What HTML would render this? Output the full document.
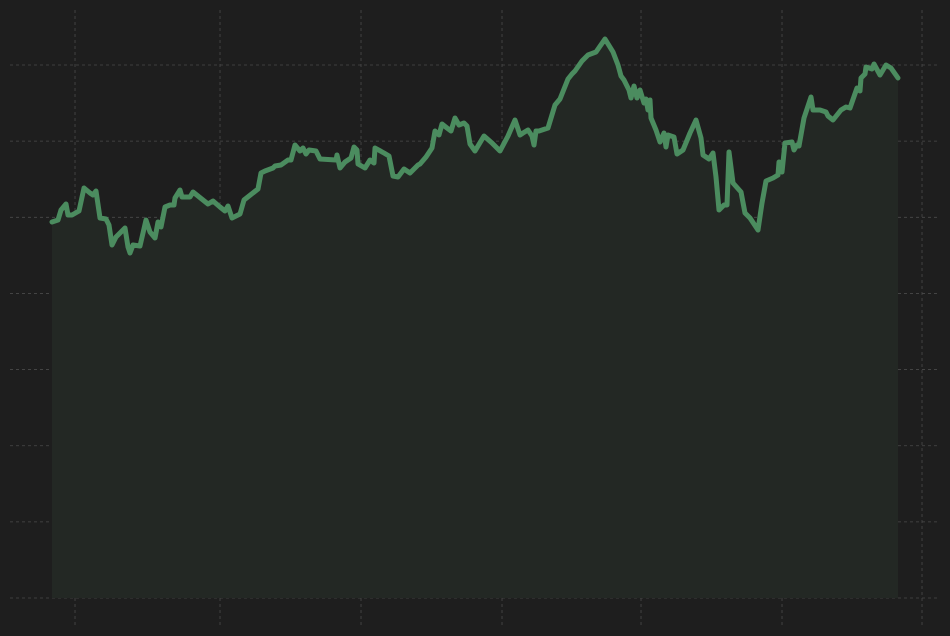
<!DOCTYPE html>
<html><head><meta charset="utf-8">
<style>
html,body{margin:0;padding:0;background:#1e1e1e;}
svg{display:block;font-family:"Liberation Sans",sans-serif;}
</style></head>
<body>
<svg id="chart" width="950" height="636" viewBox="0 0 950 636" xmlns="http://www.w3.org/2000/svg">
<rect x="0" y="0" width="950" height="636" fill="#1e1e1e"/>
<g id="grid"></g>
<g id="series"></g>
</svg>
<script>
const days=[0,6,9,14,16,20,27,32,38,41,44,48,54,57,60,64,73,76,78,81,88,94,98,103,106,109,113,118,122,123,128,130,135,138,141,146,156,161,168,173,176,180,188,192,206,209,213,221,223,229,236,239,243,248,251,254,257,264,268,284,
285,288,293,299,302,305,306,313,318,322,323,332,337,341,346,352,358,366,368,374,380,383,387,390,395,399,403,407,412,415,418,423,432,440,448,456,463,468,471,476,480,482,484,487,496,503,508,516,520,523,530,536,544,553,561,566,569,572,577,
579,582,585,588,592,594,596,598,599,604,608,612,614,616,622,625,631,638,644,649,651,657,661,664,667,672,675,677,681,689,693,698,706,710,714,721,726,727,730,733,740,742,745,747,752,759,761,768,774,776,781,789,794,798,805,808,809,813,814,820,822,828,834,839,846];
const values=[376,378,388,394,383,383,387,410,405,403,407,380,379,373,353,361,370,351,345,353,352,378,366,360,376,371,391,393,393,400,408,401,401,401,406,402,394,397,391,387,392,380,384,398,409,425,427,430,432,433,438,438,453,447,450,444,448,447,439,438,
443,430,436,440,451,448,434,430,438,435,450,445,442,422,421,429,425,433,434,441,450,467,463,474,470,467,480,473,475,472,454,447,462,455,447,462,478,463,465,468,462,453,467,467,470,493,499,519,524,527,537,543,546,559,546,533,522,518,508,
500,512,500,508,495,499,488,498,480,468,456,465,451,463,461,444,448,465,478,460,443,439,445,421,388,393,393,446,415,406,385,380,368,395,417,420,423,436,426,455,456,448,453,452,480,501,488,488,486,482,478,488,491,490,510,507,520,524,531,529,534,523,533,530,520];
const xTicks=[23,168,309,450,589,730,870];
const yTicks=[0,76.14,152.28,228.42,304.56,380.7,456.84,532.98];

const X0=52, Y0=598;
const xScale=d=>X0+d;
const yScale=v=>Y0-v;
const NS="http://www.w3.org/2000/svg";
const grid=document.getElementById('grid');
const series=document.getElementById('series');

xTicks.forEach(t=>{
  const l=document.createElementNS(NS,'line');
  
  
  const x=xScale(t);
  l.setAttribute('x1',x);l.setAttribute('x2',x);l.setAttribute('y1',10);l.setAttribute('y2',626);
  l.setAttribute('stroke','#4a4a4a');l.setAttribute('stroke-width','0.8');l.setAttribute('stroke-dasharray','3,3');
  grid.appendChild(l);
});
yTicks.forEach(t=>{
  const l=document.createElementNS(NS,'line');
  
  
  const y=yScale(t);
  l.setAttribute('x1',10);l.setAttribute('x2',940);l.setAttribute('y1',y);l.setAttribute('y2',y);
  l.setAttribute('stroke','#4a4a4a');l.setAttribute('stroke-width','0.8');l.setAttribute('stroke-dasharray','3,3');
  grid.appendChild(l);
});

const n=Math.min(days.length,values.length);
let pts=[];
for(let i=0;i<n;i++){pts.push(xScale(days[i]).toFixed(1)+','+yScale(values[i]).toFixed(1));}
const area=document.createElementNS(NS,'path');


area.setAttribute('d','M'+xScale(days[0])+','+yScale(0)+' L'+pts.join(' L')+' L'+xScale(days[n-1])+','+yScale(0)+' Z');
area.setAttribute('fill','#232824');
series.appendChild(area);

const line=document.createElementNS(NS,'path');


line.setAttribute('d','M'+pts.join(' L'));
line.setAttribute('fill','none');
line.setAttribute('stroke','#4b8c5f');
line.setAttribute('stroke-width','5');
line.setAttribute('stroke-linejoin','round');
line.setAttribute('stroke-linecap','round');
series.appendChild(line);
</script>
</body></html>
